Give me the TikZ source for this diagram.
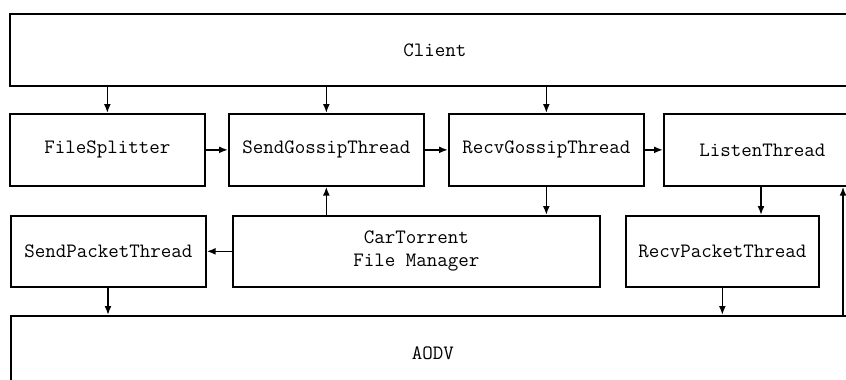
\documentclass[tikz,border=0pt]{standalone}
\usetikzlibrary{arrows.meta}
\tikzset{
  box/.style={draw, line width=1.7pt, inner sep=0pt, anchor=north west, align=center,
    font=\ttfamily\fontsize{20.4}{23}\selectfont},
  arr/.style={line width=1.7pt, -{Latex[length=9pt,width=7pt]}}
}
\begin{document}
\begin{tikzpicture}[x=1pt,y=-1pt]
\useasboundingbox (0,0) rectangle (846,380);
\clip (0,0) rectangle (846,380);
\fill[white] (0,0) rectangle (846,380);
% boxes
\node[box, minimum width=850pt, minimum height=72pt] (client) at (9,13) {Client};
\node[box, minimum width=195pt, minimum height=72pt] (fs) at (9,113) {FileSplitter};
\node[box, minimum width=195pt, minimum height=72pt] (sg) at (228,113) {SendGossipThread};
\node[box, minimum width=195pt, minimum height=72pt] (rg) at (448,113) {RecvGossipThread};
\node[box, minimum width=197pt, minimum height=72pt] (lt) at (663,113) {ListenThread};
\node[box, minimum width=195pt, minimum height=71pt] (sp) at (10,215) {SendPacketThread};
\node[box, minimum width=367pt, minimum height=71pt] (ct) at (232,215) {CarTorrent\\File Manager};
\node[box, minimum width=193pt, minimum height=71pt] (rp) at (625,215) {RecvPacketThread};
\node[box, minimum width=844pt, minimum height=74pt] (aodv) at (10,315) {AODV};
% connectors
\coordinate (rx) at (843,0);
\draw[arr] (client.south -| fs.north) -- (fs.north);
\draw[arr] (client.south -| sg.north) -- (sg.north);
\draw[arr] (client.south -| rg.north) -- (rg.north);
\draw[arr] (fs.east) -- (sg.west);
\draw[arr] (sg.east) -- (rg.west);
\draw[arr] (rg.east) -- (lt.west);
\draw[arr] (rg.south) -- (ct.north -| rg.south);
\draw[arr] (ct.north -| sg.south) -- (sg.south);
\draw[arr] (ct.west) -- (sp.east);
\draw[arr] (lt.south -| 761,0) -- (rp.north -| 761,0);
\draw[arr] (sp.south -| 108,0) -- (aodv.north -| 108,0);
\draw[arr] (rp.south) -- (aodv.north -| rp.south);
\draw[arr] (aodv.north -| rx) -- (lt.south -| rx);
\end{tikzpicture}
\end{document}
